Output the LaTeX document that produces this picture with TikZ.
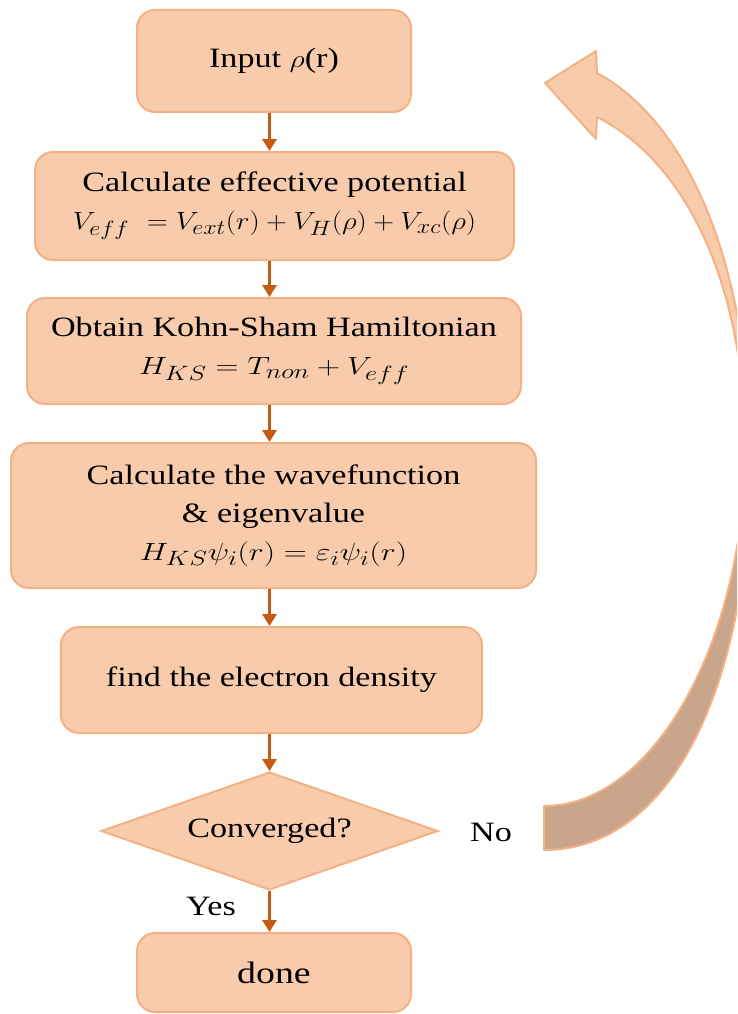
\documentclass[tikz,border=0pt]{standalone}
\usepackage{fontspec}
\setmainfont{Liberation Serif}[FakeStretch=1.22]
\usepackage{graphicx}
\usetikzlibrary{shapes.geometric,arrows.meta}
\definecolor{boxfill}{HTML}{F8CBAD}
\definecolor{boxline}{HTML}{F4B183}
\definecolor{arrcol}{HTML}{C55A11}
\definecolor{backfill}{HTML}{C9A58B}
\newcommand\sx[2][1.2]{\scalebox{#1}[1]{#2}}
\begin{document}
\begin{tikzpicture}[x=1pt,y=-1pt,
  box/.style={draw=boxline, line width=2pt, fill=boxfill, rounded corners=18pt,
    align=center, inner sep=0pt, font=\fontsize{28}{38}\selectfont},
  dia/.style={diamond, draw=boxline, line width=2pt, fill=boxfill, inner sep=0pt,
    aspect=2.86, font=\fontsize{28}{38}\selectfont},
  lbl/.style={font=\fontsize{28}{38}\selectfont, inner sep=0pt},
  arr/.style={draw=arrcol, line width=3.5pt, -{Triangle[length=12pt,width=14pt]}},
  curv/.style={draw=boxline, line width=2pt, line join=round}]
\useasboundingbox (0,0) rectangle (737,1014);
\clip (0,0) rectangle (737,1014);
% curved return arrow
\path[curv, fill=backfill] (750,460) .. controls (750,680) and (674,850) .. (544,850)
  -- (544,806) .. controls (654,806) and (745,640) .. (745,450) -- cycle;
\path[curv, fill=boxfill] (597,73) .. controls (685,120) and (750,260) .. (750,460)
  -- (745,450) .. controls (745,270) and (677,157) .. (597,117)
  -- (596,139) -- (545,83) -- (596,51) -- cycle;
% boxes
\node[box, minimum width=274pt, minimum height=102pt] (b1) at (274,61) {Input \sx{$\rho$}(r)};
\node[box, minimum width=479pt, minimum height=108pt] (b2) at (274.5,206)
  {Calculate effective potential\\ \sx[1.16]{$V_{eff}\ = V_{ext}(r) + V_H(\rho) + V_{xc}(\rho)$}};
\node[box, minimum width=494pt, minimum height=106pt] (b3) at (274,351)
  {Obtain Kohn-Sham Hamiltonian\\ \sx[1.28]{$H_{KS} = T_{non} + V_{eff}$}};
\node[box, minimum width=525pt, minimum height=145pt] (b4) at (273.5,515.5)
  {Calculate the wavefunction\\ \& eigenvalue\\ \sx[1.28]{$H_{KS}\psi_i(r) = \varepsilon_i\psi_i(r)$}};
\node[box, minimum width=421pt, minimum height=106pt] (b5) at (271.5,680)
  {find the electron density};
\node[dia, minimum width=337pt, minimum height=118pt] (d) at (269.5,831) {Converged?};
\node[box, minimum width=274pt, minimum height=79pt, font=\fontsize{31}{38}\selectfont] (b6) at (274,972.5) {done};
\node[lbl] (yes) at (211,906) {Yes};
\node[lbl] (no) at (491,832) {No};
% connectors
\draw[arr] (b1.south -| d.north) -- (b2.north -| d.north);
\draw[arr] (b2.south -| d.north) -- (b3.north -| d.north);
\draw[arr] (b3.south -| d.north) -- (b4.north -| d.north);
\draw[arr] (b4.south -| d.north) -- (b5.north -| d.north);
\draw[arr] (b5.south -| d.north) -- (d.north);
\draw[arr] (d.south) -- (b6.north -| d.south);
\end{tikzpicture}
\end{document}
